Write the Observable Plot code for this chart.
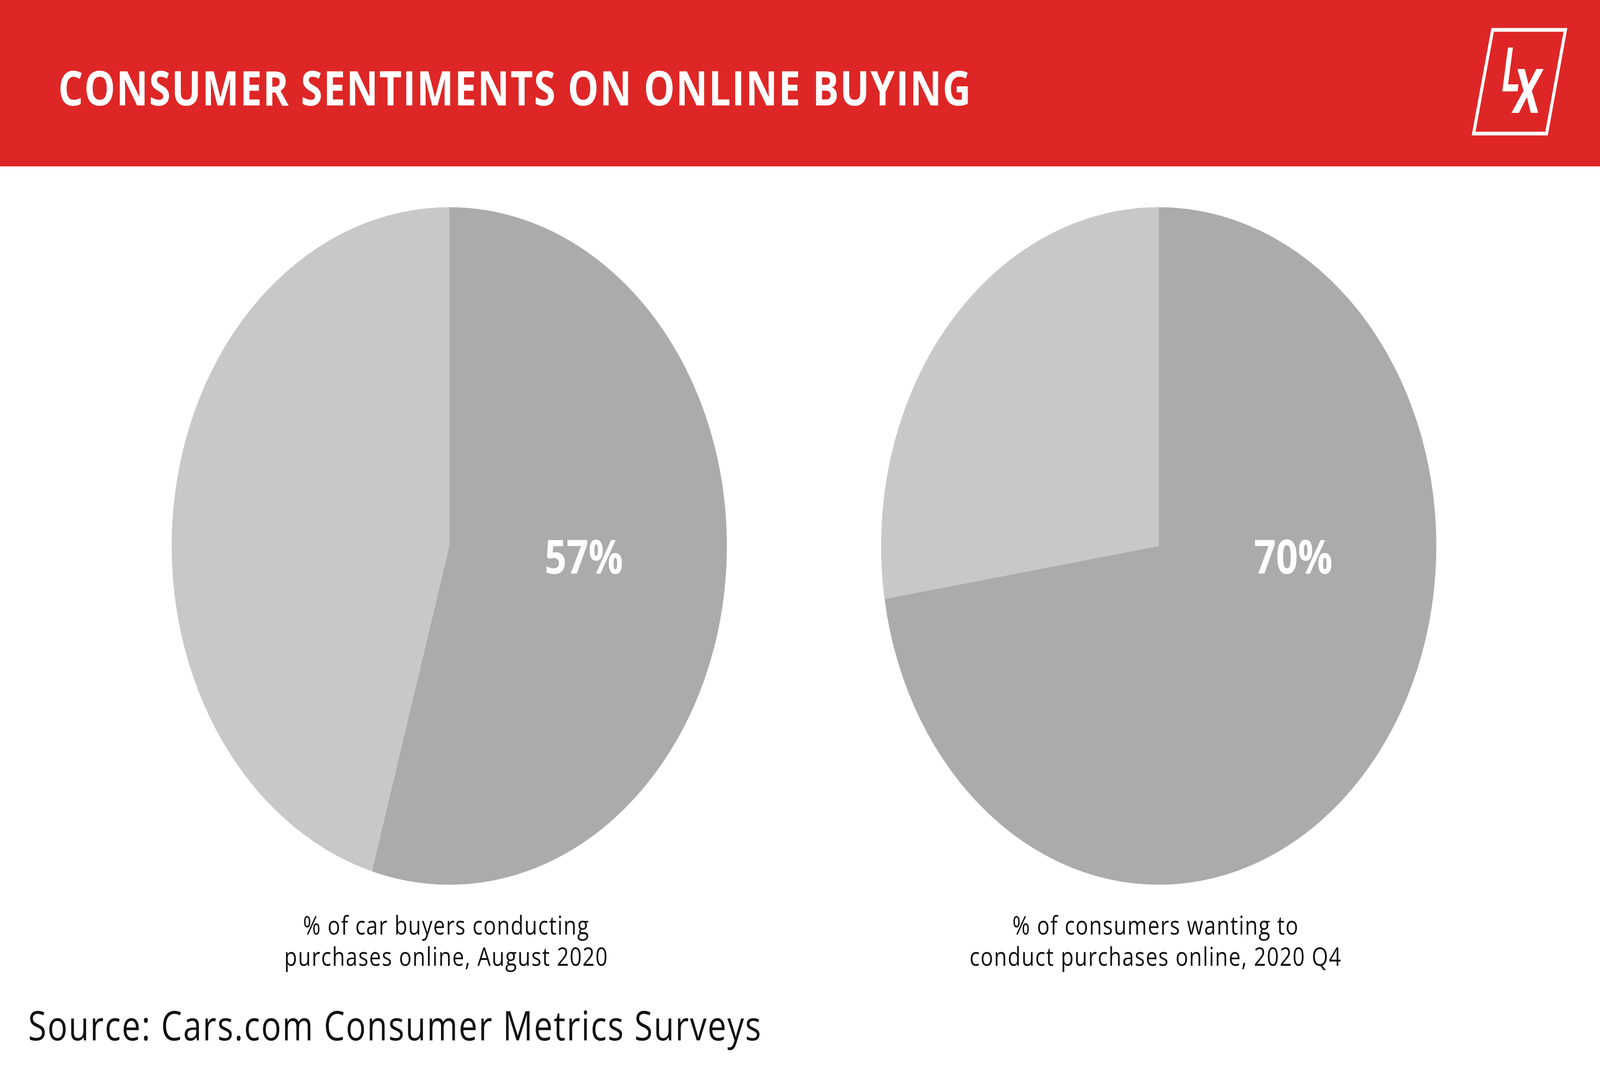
<!DOCTYPE html>
<html>
<head>
<meta charset="utf-8">
<script src="https://cdn.jsdelivr.net/npm/d3@7"></script>
<script src="https://cdn.jsdelivr.net/npm/@observablehq/plot@0.6"></script>
<style>
  html, body { margin: 0; padding: 0; background: #ffffff; overflow: hidden; }
  #page { position: absolute; left: 0; top: 0; width: 5000px; height: 2727px; background: #ffffff; transform-origin: 0 0; }
  #header { position: absolute; left: 0; top: 0; width: 5000px; height: 426px; background: #DF2626; }
  #chart { position: absolute; left: 0; top: 426px; width: 5000px; }
  #footer { position: absolute; left: 0; top: 2540px; width: 5000px; height: 187px; }
  svg { display: block; }
</style>
</head>
<body>
<div id="page">
<div id="header">
  <svg width="5000" height="426" xmlns="http://www.w3.org/2000/svg">
    <text x="182" y="270" fill="#ffffff" font-family="'Open Sans', sans-serif" font-weight="700" font-size="122"
          textLength="2852" lengthAdjust="spacing">CONSUMER SENTIMENTS ON ONLINE BUYING</text>
    <polygon points="4664.5,76.5 4892,76.5 4833,342 4605,342" fill="none" stroke="#ffffff" stroke-width="9.5"/>
    <text transform="translate(4688,234) skewX(-9) scale(0.66,1)" fill="#ffffff" font-family="Roboto, sans-serif" font-weight="700" font-size="158">L</text>
    <text transform="translate(4722,289) skewX(-9) scale(0.86,1)" fill="#ffffff" font-family="Roboto, sans-serif" font-weight="700" font-size="158">X</text>
  </svg>
</div>
<div id="chart"></div>
<div id="footer">
  <svg width="5000" height="187" xmlns="http://www.w3.org/2000/svg">
    <text x="88" y="124" fill="#111111" font-family="'Open Sans', sans-serif" font-weight="400" font-size="104"
          textLength="2290" lengthAdjust="spacing">Source: Cars.com Consumer Metrics Surveys</text>
  </svg>
</div>
</div>
<script>
// ---- data ----
const charts = ["August 2020", "2020 Q4"];
const onlineShare = [54.5, 72.5];          // share of each pie drawn as the dark slice
const shareLabels = ["57%", "70%"];
const captionLine1 = ["% of car buyers conducting", "% of consumers wanting to"];
const captionLine2 = ["purchases online, August 2020", "conduct purchases online, 2020 Q4"];
const parts = ["online", "other"];
const partColors = ["#ABABAB", "#C8C8C8"];

// ---- derived tables ----
const slices = charts.flatMap((chart, i) => {
  const rows = [
    {chart, part: parts[0], value: onlineShare[i]},
    {chart, part: parts[1], value: 100 - onlineShare[i]}
  ];
  return d3.pie().sort(null).value(d => d.value)(rows)
    .map(a => ({...a.data, startAngle: a.startAngle, endAngle: a.endAngle}));
});
const labels = charts.map((chart, i) => ({
  chart,
  label: shareLabels[i],
  caption: captionLine1[i] + "\n" + captionLine2[i]
}));

const pieMark = Plot.dot(slices, {
  x: "chart",
  y: () => 0,
  fill: "part",
  render(index, scales, values) {
    const r = Math.abs(scales.y(1) - scales.y(-1)) / 2;
    const arc = d3.arc().innerRadius(0).outerRadius(r);
    const g = d3.create("svg:g");
    for (const i of index) {
      g.append("path")
        .attr("transform", `translate(${values.x[i]},${values.y[i]})`)
        .attr("d", arc(slices[i]))
        .attr("fill", values.fill[i])
        .attr("stroke", values.fill[i])
        .attr("stroke-width", 1);
    }
    return g.node();
  }
});

const plot = Plot.plot({
  width: 5000,
  height: 2114,
  margin: 0,
  x: {type: "point", domain: charts, range: [1404, 3621], padding: 0, axis: null},
  y: {domain: [-1, 1], range: [972 + 867, 972 - 867], axis: null},
  color: {domain: parts, range: partColors},
  style: {background: "transparent", fontFamily: "'Open Sans', sans-serif", maxWidth: "none"},
  marks: [
    pieMark,
    Plot.text(labels, {
      x: "chart", y: () => 0, text: "label",
      dx: 420, dy: 70, lineAnchor: "bottom",
      fontSize: 120, fontWeight: 700, fill: "#ffffff"
    }),
    Plot.text(labels, {
      x: "chart", text: "caption",
      frameAnchor: "bottom", lineAnchor: "bottom",
      dx: -10, dy: -68, lineHeight: 1.2,
      fontSize: 66, fill: "#111111"
    })
  ]
});
// widen the caption lettering toward the reference's geometric face, tighten the big labels
d3.select(plot).selectAll("text").each(function () {
  if (this.querySelector("tspan")) this.setAttribute("letter-spacing", "2.5");
  else if (this.getAttribute("font-size") === "120") this.setAttribute("letter-spacing", "-4");
});
document.getElementById("chart").appendChild(plot);

// fit the 5000×2727 layout to the actual viewport
function fit() {
  const sx = window.innerWidth / 5000, sy = window.innerHeight / 2727;
  document.getElementById("page").style.transform = `scale(${sx}, ${sy})`;
}
fit();
window.addEventListener("resize", fit);
</script>
</body>
</html>
